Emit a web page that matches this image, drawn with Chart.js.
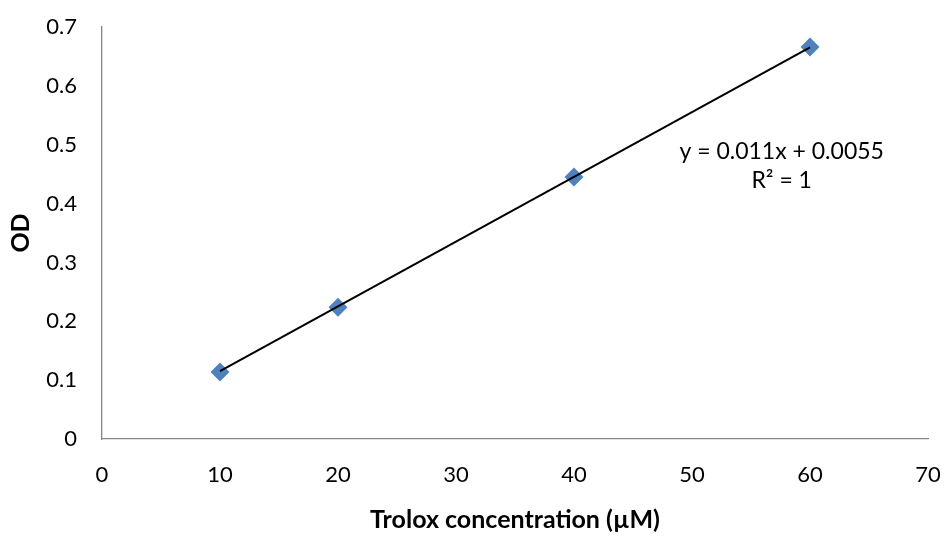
<!DOCTYPE html>
<html>
<head>
<meta charset="utf-8">
<script src="https://cdn.jsdelivr.net/npm/chart.js@4/dist/chart.umd.min.js"></script>
<style>
html,body{margin:0;padding:0;background:#fff;}
#wrap{width:948px;height:536px;}
</style>
</head>
<body>
<div id="wrap"><canvas id="c" width="948" height="536"></canvas></div>
<script>
const concentrations = [10, 20, 40, 60];
const odValues = [0.114, 0.224, 0.445, 0.666];
const xTickLabels = ['0','10','20','30','40','50','60','70'];
const yTickLabels = ['0','0.1','0.2','0.3','0.4','0.5','0.6','0.7'];
const trendSlope = 0.011;
const trendIntercept = 0.0055;
const equationLines = ['y = 0.011x + 0.0055', 'R\u00B2 = 1'];
const equationAnchor = {x: 57.6, y: [0.4876, 0.4383]};
const xTitle = 'Trolox concentration (\u00B5M)';
const yTitle = 'OD';

const FONT = 'Lato, "Open Sans", sans-serif';
const trendX = [concentrations[0], concentrations[concentrations.length-1]];
const trendPts = trendX.map(x => ({x: x, y: trendSlope*x + trendIntercept}));

const eqPlugin = {
  id: 'eq',
  afterDatasetsDraw(chart) {
    const ctx = chart.ctx;
    const xs = chart.scales.x, ys = chart.scales.y;
    ctx.save();
    ctx.fillStyle = '#000';
    ctx.font = '23px ' + FONT;
    ctx.textAlign = 'center';
    ctx.textBaseline = 'middle';
    equationLines.forEach((t, i) => {
      ctx.fillText(t, xs.getPixelForValue(equationAnchor.x), ys.getPixelForValue(equationAnchor.y[i]));
    });
    ctx.restore();
  }
};

new Chart(document.getElementById('c'), {
  type: 'scatter',
  data: {
    datasets: [
      {
        type: 'line',
        data: trendPts,
        borderColor: '#000',
        borderWidth: 2,
        pointRadius: 0,
        fill: false,
        order: 0
      },
      {
        data: concentrations.map((x, i) => ({x: x, y: odValues[i]})),
        backgroundColor: '#4F81BD',
        borderColor: '#4F81BD',
        borderWidth: 0,
        pointStyle: 'rectRot',
        pointRadius: 9.5,
        pointHoverRadius: 9.5,
        order: 1
      }
    ]
  },
  plugins: [eqPlugin],
  options: {
    responsive: false,
    animation: false,
    devicePixelRatio: 1,
    layout: {padding: {left: 0, right: 20, top: 27, bottom: 0}},
    plugins: {legend: {display: false}, tooltip: {enabled: false}},
    scales: {
      x: {
        type: 'linear',
        min: 0, max: 70,
        afterBuildTicks(s) { s.ticks = xTickLabels.map(v => ({value: Number(v)})); },
        ticks: {
          color: '#000',
          font: {family: FONT, size: 22},
          padding: 0,
          maxRotation: 0,
          callback: (v, i) => xTickLabels[i]
        },
        grid: {display: false, drawTicks: true, tickLength: 23},
        border: {display: true, color: '#868686', width: 1.3},
        title: {
          display: true, text: xTitle, color: '#000',
          font: {family: FONT, size: 25, weight: 'bold'},
          padding: {top: 0, bottom: 1}
        },
        afterFit(s) { s.height = 97; }
      },
      y: {
        type: 'linear',
        min: 0, max: 0.7,
        afterBuildTicks(s) { s.ticks = yTickLabels.map(v => ({value: Number(v)})); },
        ticks: {
          color: '#000',
          font: {family: FONT, size: 22},
          padding: 0,
          callback: (v, i) => yTickLabels[i]
        },
        grid: {display: false, drawTicks: true, tickLength: 25},
        border: {display: true, color: '#868686', width: 1.3},
        title: {
          display: true, text: yTitle, color: '#000',
          font: {family: FONT, size: 25, weight: 'bold'},
          padding: {top: 6, bottom: 0}
        },
        afterFit(s) { s.width = 102; }
      }
    }
  }
});
</script>
</body>
</html>
